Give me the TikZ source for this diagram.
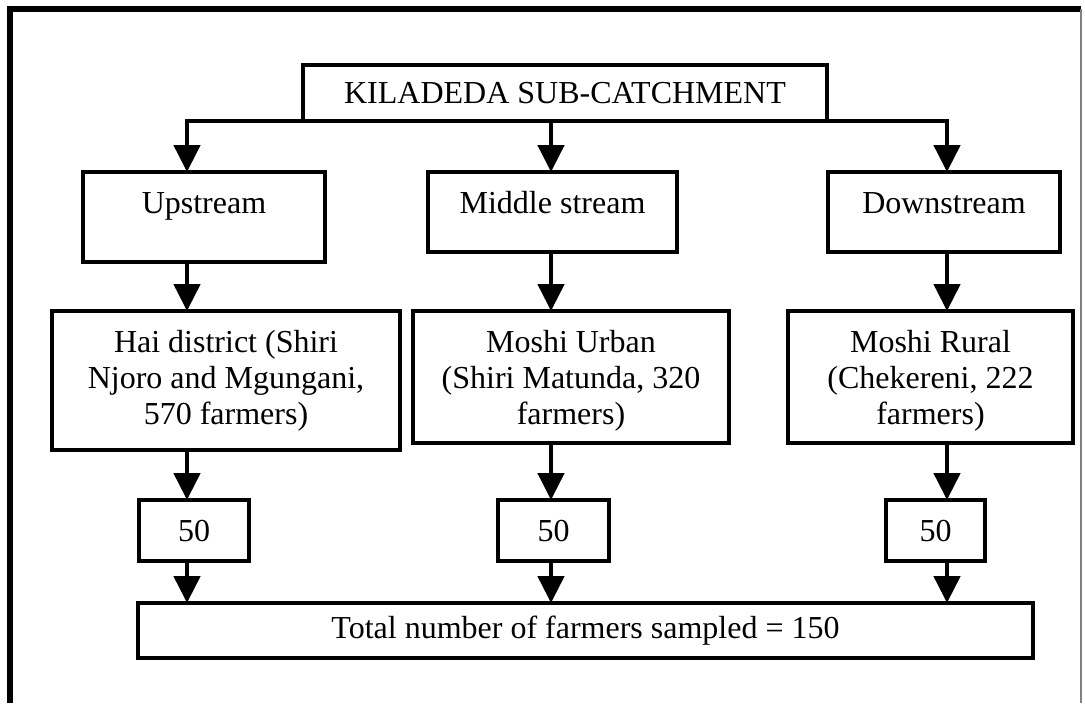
\documentclass[tikz,border=0pt]{standalone}
\usepackage{fontspec}
\setmainfont{Liberation Serif}
\usetikzlibrary{arrows.meta}
\begin{document}
\begin{tikzpicture}[x=0.5pt,y=-0.5pt,
  bigtri/.tip={Triangle[width=13pt,length=13.5pt]},
  box/.style={draw,line width=2.2pt,align=center,inner xsep=0pt,outer sep=0pt,font=\fontsize{16}{18}\selectfont},
  topbox/.style={box,anchor=north,inner ysep=9.5pt,text height=11pt},
  threeline/.style={box,anchor=north,inner ysep=9.5pt,text height=47pt},
  arr/.style={line width=2.4pt,-bigtri}]
\useasboundingbox (0,0) rectangle (1085,703);
% frame
\draw[line width=3pt] (10,703) -- (10,9) -- (1081,9);
\draw[gray,line width=0.6pt] (1081,9) -- (1081,703);
\coordinate (l1) at (187,0);
\coordinate (l2) at (551,0);
\coordinate (l3) at (947,0);
\node[box,minimum width=262pt,minimum height=28pt] (title) at (565,93) {KILADEDA SUB-CATCHMENT};
\node[topbox,minimum width=121pt,text depth=15pt] (up) at (204,172) {Upstream};
\node[topbox,minimum width=124.5pt,text depth=10pt] (mid) at (552.5,172) {Middle stream};
\node[topbox,minimum width=116pt,text depth=10pt] (down) at (944,172) {Downstream};
\node[threeline,minimum width=174pt,text depth=3.5pt] (hai) at (226,311) {Hai district (Shiri\\Njoro and Mgungani,\\570 farmers)};
\node[threeline,minimum width=158pt,text depth=-1.5pt] (urban) at (571,311) {Moshi Urban\\(Shiri Matunda, 320\\farmers)};
\node[threeline,minimum width=142.5pt,text depth=-1.5pt] (rural) at (930.5,311) {Moshi Rural\\(Chekereni, 222\\farmers)};
\node[box,minimum width=55pt,minimum height=30.5pt] (n1) at (194,530.5) {50};
\node[box,minimum width=55.5pt,minimum height=30.5pt] (n2) at (553.5,530.5) {50};
\node[box,minimum width=49.5pt,minimum height=30.5pt] (n3) at (935.5,530.5) {50};
\node[box,minimum width=447.5pt,minimum height=27.5pt] (total) at (585.5,630.5) {Total number of farmers sampled = 150};
% arrows
\draw[line width=2.4pt,bigtri-bigtri] (up.north -| l1) |- (title.south) -| (down.north -| l3);
\draw[arr] (title.south -| l2) -- (mid.north -| l2);
\foreach \a/\b/\c/\l in {up/hai/n1/l1, mid/urban/n2/l2, down/rural/n3/l3}{
  \draw[arr] (\a.south -| \l) -- (\b.north -| \l);
  \draw[arr] (\b.south -| \l) -- (\c.north -| \l);
  \draw[arr] (\c.south -| \l) -- (total.north -| \l);
}
\end{tikzpicture}
\end{document}
